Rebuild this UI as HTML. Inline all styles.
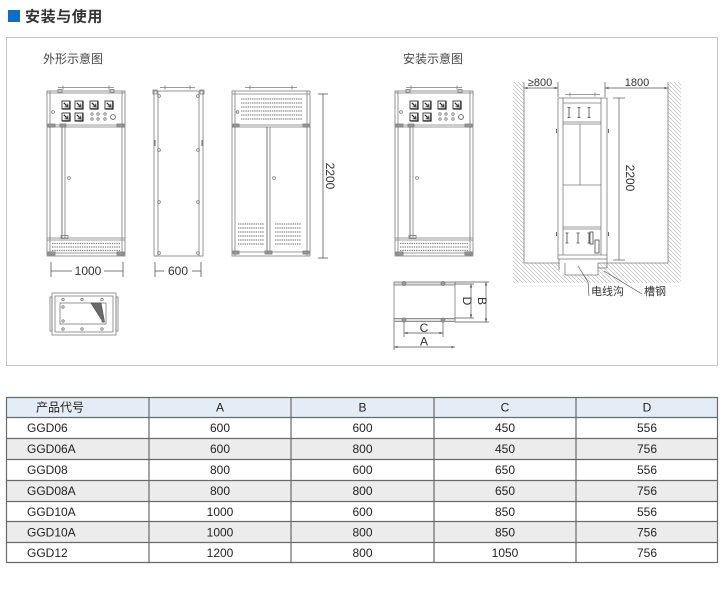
<!DOCTYPE html>
<html><head><meta charset="utf-8">
<style>
html,body{margin:0;padding:0;background:#fff;}
svg{display:block;}
text{font-family:"Liberation Sans","Noto Sans CJK SC",sans-serif;}
</style></head>
<body>
<svg width="725" height="589" viewBox="0 0 725 589" xmlns="http://www.w3.org/2000/svg">
<defs>
 <pattern id="h" patternUnits="userSpaceOnUse" width="4" height="4">
  <path d="M0 0L4 4M-1 3L1 5M3 -1L5 1" stroke="#b0b0b0" stroke-width="0.6"/>
 </pattern>
 <marker id="ar" viewBox="0 0 6 6" refX="6" refY="3" markerWidth="5" markerHeight="5" orient="auto-start-reverse">
  <path d="M0 1L6 3L0 5z" fill="#555"/>
 </marker>
 <g id="meter">
  <rect x="0" y="0" width="8" height="8" fill="#fff" stroke="#333" stroke-width="0.9"/>
  <path d="M7.9 0.5V7.9H0.5" fill="none" stroke="#222" stroke-width="1.4"/>
  <line x1="1.8" y1="1.8" x2="5.2" y2="5.2" stroke="#222" stroke-width="1.1"/>
  <path d="M6.4 6.4L2.8 5.8L5.8 2.8z" fill="#222"/>
 </g>
 <g id="cabF" fill="none" stroke="#7a7a7a" stroke-width="0.8">
  <line x1="11" y1="-3.5" x2="67" y2="-3.5"/>
  <line x1="16" y1="-5.5" x2="16" y2="-1.5"/>
  <line x1="62" y1="-5.5" x2="62" y2="-1.5"/>
  <rect x="11" y="-1.5" width="4" height="3"/>
  <rect x="63" y="-1.5" width="4" height="3"/>
  <rect x="0" y="0" width="78" height="165"/>
  <line x1="3" y1="0" x2="3" y2="165"/>
  <line x1="75" y1="0" x2="75" y2="165"/>
  <line x1="0" y1="2" x2="78" y2="2"/>
  <use href="#meter" x="15" y="10"/>
  <use href="#meter" x="28" y="10"/>
  <use href="#meter" x="43" y="10"/>
  <use href="#meter" x="58" y="10"/>
  <use href="#meter" x="15" y="22"/>
  <use href="#meter" x="28" y="22"/>
  <circle cx="45" cy="23" r="1.2"/><circle cx="51" cy="23" r="1.2"/><circle cx="58" cy="23" r="1.2"/>
  <circle cx="45" cy="28" r="1.2"/><circle cx="51" cy="28" r="1.2"/><circle cx="58" cy="28" r="1.2"/>
  <circle cx="66" cy="26" r="2.4" stroke="#444"/>
  <circle cx="6" cy="21" r="1.4"/>
  <line x1="0" y1="34" x2="78" y2="34"/>
  <line x1="0" y1="36" x2="78" y2="36"/>
  <rect x="1" y="33" width="7" height="3" fill="#999"/>
  <rect x="70" y="33" width="7" height="3" fill="#999"/>
  <rect x="13" y="33" width="6" height="3" fill="#999"/>
  <line x1="15" y1="36" x2="15" y2="147" stroke="#555"/>
  <line x1="18" y1="36" x2="18" y2="147"/>
  <circle cx="22" cy="87" r="1.4"/>
  <line x1="0" y1="147" x2="78" y2="147"/>
  <line x1="0" y1="149" x2="78" y2="149"/>
  <rect x="14" y="144.5" width="7" height="3"/>
  <g stroke="#888" stroke-width="1.2" stroke-dasharray="1.4 0.9">
   <line x1="5" y1="152.5" x2="73" y2="152.5"/>
   <line x1="5" y1="156" x2="73" y2="156"/>
   <line x1="5" y1="159.5" x2="73" y2="159.5"/>
  </g>
  <line x1="0" y1="162" x2="78" y2="162"/>
  <rect x="1" y="161" width="7" height="3" fill="#999"/>
  <rect x="70" y="161" width="7" height="3" fill="#999"/>
 </g>
</defs>

<!-- Title -->
<rect x="8" y="10" width="12" height="12" fill="#0e6ec4"/>
<text x="25" y="21.5" font-size="15" font-weight="bold" fill="#333" letter-spacing="0.6">安装与使用</text>

<!-- frame box -->
<rect x="6.5" y="37.5" width="711" height="328" fill="#fff" stroke="#c4c4c4" stroke-width="1"/>

<text x="43" y="63" font-size="12" fill="#444">外形示意图</text>
<text x="403" y="63" font-size="12" fill="#444">安装示意图</text>

<!-- front view 1 -->
<use href="#cabF" x="47" y="91"/>

<!-- side view -->
<g fill="none" stroke="#7a7a7a" stroke-width="0.8">
 <line x1="160" y1="87.5" x2="195" y2="87.5"/>
 <line x1="165" y1="85.5" x2="165" y2="89.5"/>
 <line x1="190" y1="85.5" x2="190" y2="89.5"/>
 <rect x="154" y="91" width="49" height="165"/>
 <line x1="158" y1="91" x2="158" y2="256"/>
 <line x1="199" y1="91" x2="199" y2="256"/>
 <rect x="153" y="90" width="4" height="4"/>
 <rect x="200" y="90" width="4" height="4"/>
 <circle cx="159" cy="96" r="1.4"/><circle cx="198" cy="96" r="1.4"/>
 <circle cx="159" cy="150" r="1.4"/><circle cx="198" cy="150" r="1.4"/>
 <circle cx="159" cy="202" r="1.4"/><circle cx="198" cy="202" r="1.4"/>
 <circle cx="159" cy="253" r="1.4"/><circle cx="198" cy="253" r="1.4"/>
 <line x1="155" y1="140" x2="155" y2="146" stroke="#444"/>
 <line x1="202" y1="140" x2="202" y2="146" stroke="#444"/>
</g>

<!-- rear view -->
<g fill="none" stroke="#7a7a7a" stroke-width="0.8">
 <line x1="245" y1="87.5" x2="297" y2="87.5"/>
 <line x1="250" y1="85.5" x2="250" y2="89.5"/>
 <line x1="292" y1="85.5" x2="292" y2="89.5"/>
 <rect x="232" y="91" width="78" height="165"/>
 <line x1="235" y1="91" x2="235" y2="256"/>
 <line x1="307" y1="91" x2="307" y2="256"/>
 <line x1="232" y1="94" x2="310" y2="94"/>
 <circle cx="237.5" cy="112" r="1.3"/>
 <g stroke="#888" stroke-width="1.3" stroke-dasharray="1.4 0.8">
  <line x1="241" y1="99" x2="302" y2="99"/>
  <line x1="241" y1="103" x2="302" y2="103"/>
  <line x1="241" y1="107" x2="302" y2="107"/>
  <line x1="241" y1="111" x2="302" y2="111"/>
  <line x1="241" y1="115" x2="302" y2="115"/>
  <line x1="241" y1="119" x2="302" y2="119"/>
 </g>
 <line x1="232" y1="125" x2="310" y2="125"/>
 <line x1="232" y1="127" x2="310" y2="127"/>
 <rect x="233" y="124" width="6" height="3" fill="#999"/>
 <rect x="303" y="124" width="6" height="3" fill="#999"/>
 <line x1="267" y1="127" x2="267" y2="252" stroke="#555"/>
 <line x1="270" y1="127" x2="270" y2="252"/>
 <circle cx="274" cy="178" r="1.4"/>
 <g stroke="#888" stroke-width="1.3" stroke-dasharray="1.4 0.8">
  <line x1="238" y1="224" x2="264" y2="224"/>
  <line x1="238" y1="228" x2="264" y2="228"/>
  <line x1="238" y1="232" x2="264" y2="232"/>
  <line x1="238" y1="236" x2="264" y2="236"/>
  <line x1="238" y1="240" x2="264" y2="240"/>
  <line x1="238" y1="244" x2="264" y2="244"/>
  <line x1="275" y1="224" x2="301" y2="224"/>
  <line x1="275" y1="228" x2="301" y2="228"/>
  <line x1="275" y1="232" x2="301" y2="232"/>
  <line x1="275" y1="236" x2="301" y2="236"/>
  <line x1="275" y1="240" x2="301" y2="240"/>
  <line x1="275" y1="244" x2="301" y2="244"/>
 </g>
 <line x1="232" y1="252" x2="310" y2="252"/>
 <rect x="233" y="251" width="6" height="3" fill="#999"/>
 <rect x="265" y="251" width="7" height="3" fill="#999"/>
 <rect x="303" y="251" width="6" height="3" fill="#999"/>
</g>

<!-- dimensions left group -->
<g stroke="#555" stroke-width="0.8" fill="none">
 <line x1="51" y1="262" x2="51" y2="277"/>
 <line x1="123" y1="262" x2="123" y2="277"/>
 <line x1="51" y1="271" x2="72" y2="271"/>
 <line x1="104" y1="271" x2="123" y2="271"/>
 <line x1="155" y1="262" x2="155" y2="277"/>
 <line x1="201" y1="262" x2="201" y2="277"/>
 <line x1="155" y1="271" x2="164" y2="271"/>
 <line x1="192" y1="271" x2="201" y2="271"/>
 <line x1="318" y1="94" x2="328" y2="94"/>
 <line x1="318" y1="258" x2="328" y2="258"/>
 <line x1="323" y1="94" x2="323" y2="258"/>
</g>
<text x="88" y="275" font-size="12" fill="#333" text-anchor="middle">1000</text>
<text x="178" y="275" font-size="12" fill="#333" text-anchor="middle">600</text>
<text x="326" y="176" font-size="12" fill="#333" text-anchor="middle" transform="rotate(90 326 176)">2200</text>

<!-- plan view -->
<g fill="none" stroke="#7a7a7a" stroke-width="0.8">
 <rect x="52" y="293" width="64" height="42"/>
 <rect x="55" y="296" width="58" height="36"/>
 <rect x="50" y="297" width="2" height="34"/>
 <rect x="116" y="297" width="2" height="34"/>
 <rect x="60" y="303" width="46" height="21"/>
 <path d="M91 303L101 303L104.5 322L103 322Z" fill="#6a6a6a" stroke="#555"/>
 <circle cx="63" cy="299.5" r="1.2"/><circle cx="82" cy="299.5" r="1.2"/><circle cx="102" cy="299.5" r="1.2"/>
 <circle cx="63" cy="329" r="1.2"/><circle cx="82" cy="329" r="1.2"/><circle cx="102" cy="329" r="1.2"/>
 <circle cx="63" cy="307" r="1.2"/><circle cx="63" cy="321" r="1.2"/><circle cx="103" cy="321" r="1.2"/>
</g>

<!-- install front -->
<use href="#cabF" x="395" y="91"/>

<!-- install plan -->
<g fill="none" stroke="#7a7a7a" stroke-width="0.8">
 <rect x="394" y="283.5" width="61" height="36.5"/>
 <rect x="394" y="282" width="61" height="3" fill="#ddd"/>
 <rect x="394" y="318.5" width="61" height="3" fill="#ddd"/>
 <circle cx="404" cy="283.5" r="2" fill="#999"/><circle cx="443" cy="283.5" r="2" fill="#999"/>
 <circle cx="404" cy="320" r="2" fill="#999"/><circle cx="443" cy="320" r="2" fill="#999"/>
</g>
<g stroke="#555" stroke-width="0.7" fill="none">
 <line x1="455" y1="284" x2="474" y2="284"/>
 <line x1="455" y1="318" x2="474" y2="318"/>
 <line x1="471" y1="284" x2="471" y2="318" marker-start="url(#ar)" marker-end="url(#ar)"/>
 <line x1="455" y1="282" x2="489" y2="282"/>
 <line x1="455" y1="322" x2="489" y2="322"/>
 <line x1="486" y1="282" x2="486" y2="322" marker-start="url(#ar)" marker-end="url(#ar)"/>
 <line x1="404" y1="322" x2="404" y2="337"/>
 <line x1="443" y1="322" x2="443" y2="337"/>
 <line x1="404" y1="333" x2="443" y2="333" marker-start="url(#ar)" marker-end="url(#ar)"/>
 <line x1="394" y1="322" x2="394" y2="350"/>
 <line x1="394" y1="347" x2="455" y2="347" marker-start="url(#ar)" marker-end="url(#ar)"/>
</g>
<text x="463" y="301" font-size="12" fill="#333" text-anchor="middle" transform="rotate(90 463 301)">D</text>
<text x="478" y="301" font-size="12" fill="#333" text-anchor="middle" transform="rotate(90 478 301)">B</text>
<text x="424" y="332" font-size="12" fill="#333" text-anchor="middle">C</text>
<text x="424" y="345.5" font-size="12" fill="#333" text-anchor="middle">A</text>

<!-- install side with walls -->
<rect x="513" y="82" width="11" height="181" fill="url(#h)"/>
<rect x="668" y="82" width="13" height="181" fill="url(#h)"/>
<rect x="513" y="263" width="168" height="20" fill="url(#h)"/>
<rect x="560" y="263" width="38" height="12" fill="#fff"/>
<g fill="none" stroke="#7a7a7a" stroke-width="0.8">
 <line x1="524" y1="82" x2="524" y2="263"/>
 <line x1="668" y1="82" x2="668" y2="263"/>
 <line x1="524" y1="263" x2="559" y2="263"/>
 <line x1="598" y1="263" x2="668" y2="263"/>
 <line x1="559" y1="259" x2="559" y2="270"/>
 <line x1="565" y1="263" x2="565" y2="275"/>
 <line x1="565" y1="275" x2="598" y2="275"/>
 <line x1="598" y1="263" x2="598" y2="275"/>
 <line x1="598" y1="268" x2="607" y2="268"/>
 <line x1="607" y1="259" x2="607" y2="268"/>
 <line x1="565" y1="94.5" x2="600" y2="94.5"/>
 <line x1="570" y1="92.5" x2="570" y2="96.5"/>
 <line x1="595" y1="92.5" x2="595" y2="96.5"/>
 <rect x="558" y="98" width="49" height="161"/>
 <line x1="563" y1="98" x2="563" y2="255"/>
 <line x1="601" y1="98" x2="601" y2="255"/>
 <line x1="563" y1="103" x2="601" y2="103"/>
 <line x1="563" y1="122" x2="601" y2="122"/>
 <line x1="563" y1="124" x2="601" y2="124"/>
 <line x1="580" y1="124" x2="580" y2="185"/>
 <line x1="563" y1="185" x2="601" y2="185"/>
 <line x1="563" y1="227" x2="601" y2="227"/>
 <line x1="563" y1="229" x2="601" y2="229"/>
 <line x1="558" y1="255" x2="607" y2="255"/>
 <g stroke="#444">
  <path d="M567.5 107.5h3M569 107.5v10M567.5 117.5h3"/>
  <path d="M577.5 107.5h3M579 107.5v10M577.5 117.5h3"/>
  <path d="M587.5 107.5h3M589 107.5v10M587.5 117.5h3"/>
  <path d="M565.5 233h3M567 233v10M565.5 243h3"/>
  <path d="M576.5 233h3M578 233v10M576.5 243h3"/>
  <path d="M587.5 233h3M589 233v10M587.5 243h3"/>
  <rect x="590" y="232" width="3" height="12"/>
  <rect x="595" y="240" width="4" height="13"/>
  <line x1="556.5" y1="129" x2="556.5" y2="133"/>
  <line x1="556.5" y1="232" x2="556.5" y2="236"/>
  <line x1="608.5" y1="129" x2="608.5" y2="133"/>
  <line x1="608.5" y1="232" x2="608.5" y2="236"/>
 </g>
</g>
<g stroke="#555" stroke-width="0.7" fill="none">
 <line x1="558" y1="82" x2="558" y2="97"/>
 <line x1="605" y1="82" x2="605" y2="97"/>
 <line x1="524" y1="88" x2="558" y2="88" marker-start="url(#ar)" marker-end="url(#ar)"/>
 <line x1="605" y1="88" x2="668" y2="88" marker-start="url(#ar)" marker-end="url(#ar)"/>
 <line x1="613" y1="98" x2="625" y2="98"/>
 <line x1="613" y1="260" x2="625" y2="260"/>
 <line x1="619" y1="98" x2="619" y2="260"/>
 <polyline points="578,266 588,282 589,296"/>
 <line x1="604" y1="271" x2="642" y2="294"/>
</g>
<text x="540" y="86" font-size="11" fill="#333" text-anchor="middle">≥800</text>
<text x="637" y="86" font-size="11" fill="#333" text-anchor="middle">1800</text>
<text x="626" y="178" font-size="12" fill="#333" text-anchor="middle" transform="rotate(90 626 178)">2200</text>
<text x="591" y="295" font-size="11" fill="#333">电线沟</text>
<text x="644" y="295" font-size="11" fill="#333">槽钢</text>

<!-- Table -->
<rect x="6" y="397" width="712" height="166" fill="#fff"/>
<rect x="6" y="397" width="712" height="20" fill="#e4ecf6"/>
<rect x="6" y="438" width="712" height="21" fill="#ececec"/>
<rect x="6" y="480" width="712" height="21" fill="#ececec"/>
<rect x="6" y="522" width="712" height="20" fill="#ececec"/>
<g stroke="#6a6a6a" stroke-width="1.2">
 <line x1="6" y1="397.5" x2="718" y2="397.5"/>
 <line x1="6" y1="417.5" x2="718" y2="417.5"/>
 <line x1="6" y1="438.5" x2="718" y2="438.5"/>
 <line x1="6" y1="459.5" x2="718" y2="459.5"/>
 <line x1="6" y1="480.5" x2="718" y2="480.5"/>
 <line x1="6" y1="501.5" x2="718" y2="501.5"/>
 <line x1="6" y1="521.5" x2="718" y2="521.5"/>
 <line x1="6" y1="542.5" x2="718" y2="542.5"/>
 <line x1="6" y1="562.5" x2="718" y2="562.5"/>
 <line x1="6.5" y1="397" x2="6.5" y2="563"/>
 <line x1="149" y1="397" x2="149" y2="563"/>
 <line x1="291" y1="397" x2="291" y2="563"/>
 <line x1="434" y1="397" x2="434" y2="563"/>
 <line x1="576" y1="397" x2="576" y2="563"/>
 <line x1="717.5" y1="397" x2="717.5" y2="563"/>
</g>
<g font-size="12" fill="#222">
 <text x="36" y="411.5">产品代号</text>
 <text x="220" y="411.5" text-anchor="middle">A</text>
 <text x="362.5" y="411.5" text-anchor="middle">B</text>
 <text x="505" y="411.5" text-anchor="middle">C</text>
 <text x="647" y="411.5" text-anchor="middle">D</text>

 <text x="27" y="432">GGD06</text>
 <text x="220" y="432" text-anchor="middle">600</text>
 <text x="362.5" y="432" text-anchor="middle">600</text>
 <text x="505" y="432" text-anchor="middle">450</text>
 <text x="647" y="432" text-anchor="middle">556</text>

 <text x="27" y="453">GGD06A</text>
 <text x="220" y="453" text-anchor="middle">600</text>
 <text x="362.5" y="453" text-anchor="middle">800</text>
 <text x="505" y="453" text-anchor="middle">450</text>
 <text x="647" y="453" text-anchor="middle">756</text>

 <text x="27" y="474">GGD08</text>
 <text x="220" y="474" text-anchor="middle">800</text>
 <text x="362.5" y="474" text-anchor="middle">600</text>
 <text x="505" y="474" text-anchor="middle">650</text>
 <text x="647" y="474" text-anchor="middle">556</text>

 <text x="27" y="495">GGD08A</text>
 <text x="220" y="495" text-anchor="middle">800</text>
 <text x="362.5" y="495" text-anchor="middle">800</text>
 <text x="505" y="495" text-anchor="middle">650</text>
 <text x="647" y="495" text-anchor="middle">756</text>

 <text x="27" y="516">GGD10A</text>
 <text x="220" y="516" text-anchor="middle">1000</text>
 <text x="362.5" y="516" text-anchor="middle">600</text>
 <text x="505" y="516" text-anchor="middle">850</text>
 <text x="647" y="516" text-anchor="middle">556</text>

 <text x="27" y="536.5">GGD10A</text>
 <text x="220" y="536.5" text-anchor="middle">1000</text>
 <text x="362.5" y="536.5" text-anchor="middle">800</text>
 <text x="505" y="536.5" text-anchor="middle">850</text>
 <text x="647" y="536.5" text-anchor="middle">756</text>

 <text x="27" y="557">GGD12</text>
 <text x="220" y="557" text-anchor="middle">1200</text>
 <text x="362.5" y="557" text-anchor="middle">800</text>
 <text x="505" y="557" text-anchor="middle">1050</text>
 <text x="647" y="557" text-anchor="middle">756</text>
</g>
</svg>
</body></html>
